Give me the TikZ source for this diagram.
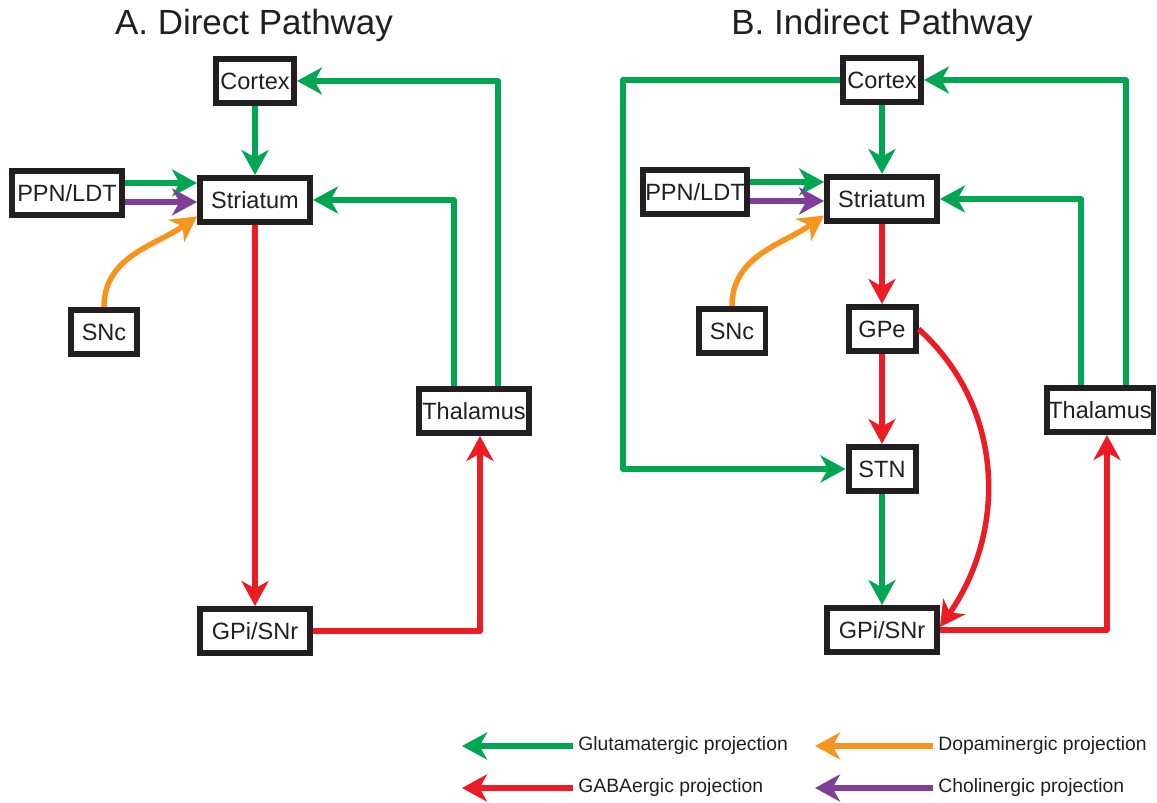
\documentclass[tikz,border=0pt]{standalone}
\usepackage{fontspec}
\setmainfont{Liberation Sans}
\usetikzlibrary{arrows.meta}
\definecolor{bggreen}{HTML}{00A651}
\definecolor{bgred}{HTML}{ED1C24}
\definecolor{bgorange}{HTML}{F7941D}
\definecolor{bgpurple}{HTML}{7F3F98}
\definecolor{bgdark}{HTML}{231F20}
\tikzset{
  region/.style={draw=bgdark,line width=0.12cm,fill=white,text=bgdark,inner sep=0pt,minimum height=0.88cm,font=\fontsize{13.4}{16}\selectfont},
  wide/.style={region,minimum width=2.2cm},
  narrow/.style={region,minimum width=1.34cm},
  proj/.style={-{Stealth[length=0.5cm,width=0.54cm,inset=0.15cm]},line width=0.11cm,line join=round},
  glu/.style={proj,draw=bggreen},
  gaba/.style={proj,draw=bgred},
  dopa/.style={proj,draw=bgorange},
  chol/.style={proj,draw=bgpurple},
  paneltitle/.style={anchor=base,text=bgdark,font=\fontsize{19.9}{24}\selectfont},
  legtxt/.style={anchor=west,inner sep=0.1cm,text=bgdark,font=\fontsize{11}{13}\selectfont},
}
\begin{document}
\begin{tikzpicture}[x=0.02cm,y=0.02cm]
  \useasboundingbox (0,0) rectangle (1157,802);
  \node[paneltitle] (ttlA) at (254,767) {A. Direct Pathway};
  \node[paneltitle] (ttlB) at (882,767) {B. Indirect Pathway};

  \node[region,minimum width=1.56cm] (ctxA) at (255,721) {Cortex};
  \node[wide] (strA) at (255,602) {Striatum};
  \node[wide] (ppnA) at (67,609) {PPN/LDT};
  \node[narrow] (sncA) at (104,470) {SNc};
  \node[wide] (thA) at (474,391) {Thalamus};
  \node[wide] (gpiA) at (255,171) {GPi/SNr};
  \draw[glu] (ctxA) -- (strA);
  \draw[glu] ([xshift=0.48cm]thA.north) |- (ctxA.east);
  \draw[glu] ([xshift=-0.4cm]thA.north) |- (strA.east);
  \draw[gaba] (strA) -- (gpiA);
  \draw[gaba] (gpiA.east) -| ([xshift=0.12cm]thA.south);
  \draw[glu] ([yshift=0.2cm]ppnA.east) -- ([yshift=0.2cm]ppnA.east -| strA.west);
  \draw[chol] ([yshift=-0.18cm]ppnA.east) -- ([yshift=-0.18cm]ppnA.east -| strA.west);
  \draw[dopa] (sncA.north) to[out=90,in=215] ([yshift=0.17cm]strA.south west);

  \node[region,minimum width=1.56cm] (ctxB) at (882,722) {Cortex};
  \node[wide] (strB) at (882,603) {Striatum};
  \node[wide,minimum width=2.08cm] (ppnB) at (695,610) {PPN/LDT};
  \node[narrow] (sncB) at (732,471) {SNc};
  \node[narrow] (gpeB) at (882,473) {GPe};
  \node[narrow] (stnB) at (882,333) {STN};
  \node[wide] (gpiB) at (882,172) {GPi/SNr};
  \node[wide,minimum width=2.14cm] (thB) at (1100,392) {Thalamus};
  \coordinate (loopB) at (623,333);
  \draw[glu] (ctxB) -- (strB);
  \draw[glu] (ctxB.west) -| (loopB) -- (stnB.west);
  \draw[glu] ([xshift=0.52cm]thB.north) |- (ctxB.east);
  \draw[glu] ([xshift=-0.38cm]thB.north) |- (strB.east);
  \draw[gaba] (strB) -- (gpeB);
  \draw[gaba] (gpeB) -- (stnB);
  \draw[glu] (stnB) -- (gpiB);
  \draw[gaba] (gpeB.east) to[out=-42,in=55] ([yshift=0.06cm]gpiB.east);
  \draw[gaba] (gpiB.east) -| ([xshift=0.14cm]thB.south);
  \draw[glu] ([yshift=0.2cm]ppnB.east) -- ([yshift=0.2cm]ppnB.east -| strB.west);
  \draw[chol] ([yshift=-0.18cm]ppnB.east) -- ([yshift=-0.18cm]ppnB.east -| strB.west);
  \draw[dopa] (sncB.north) to[out=90,in=215] ([yshift=0.17cm]strB.south west);

  \node[legtxt] (lgGlu) at (573,56) {Glutamatergic projection};
  \node[legtxt] (lgGaba) at (573,14) {GABAergic projection};
  \node[legtxt] (lgDopa) at (933,56) {Dopaminergic projection};
  \node[legtxt] (lgChol) at (933,14) {Cholinergic projection};
  \coordinate (lgGluEnd) at (462,56);
  \coordinate (lgGabaEnd) at (462,14);
  \coordinate (lgDopaEnd) at (815,56);
  \coordinate (lgCholEnd) at (815,14);
  \draw[glu] (lgGlu.west) -- (lgGluEnd);
  \draw[gaba] (lgGaba.west) -- (lgGabaEnd);
  \draw[dopa] (lgDopa.west) -- (lgDopaEnd);
  \draw[chol] (lgChol.west) -- (lgCholEnd);
\end{tikzpicture}
\end{document}
